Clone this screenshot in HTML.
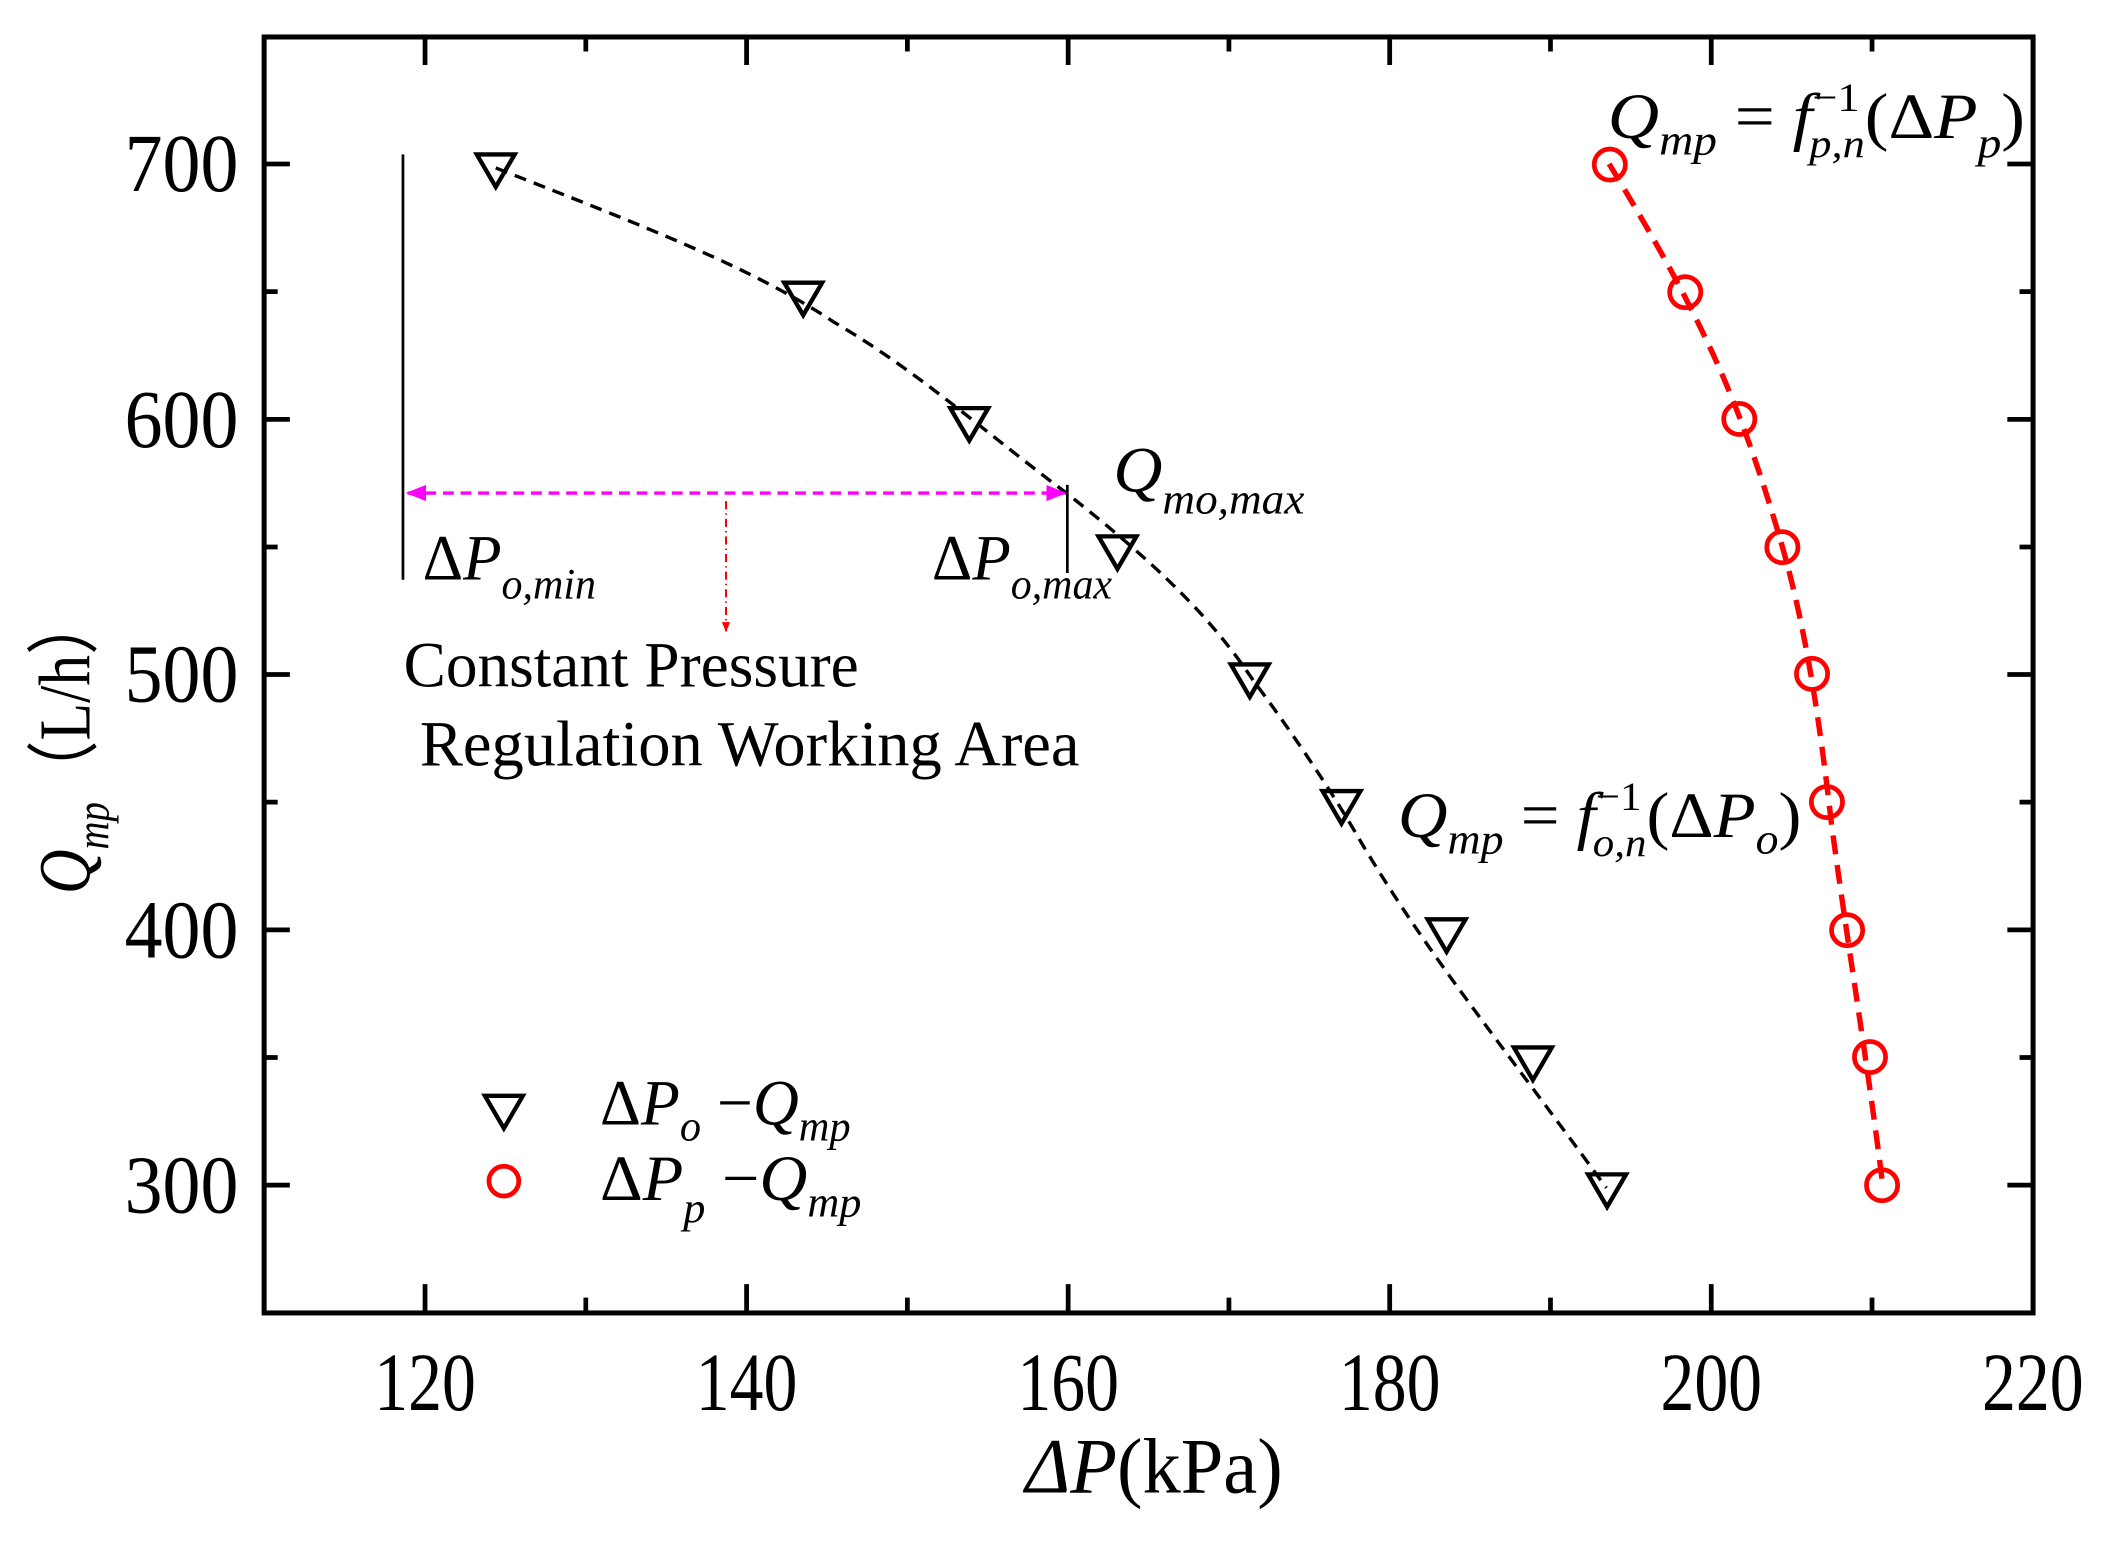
<!DOCTYPE html>
<html><head><meta charset="utf-8"><style>
html,body{margin:0;padding:0;background:#fff;}
svg{display:block;}
text{font-family:"Liberation Serif",serif;fill:#000;}
</style></head><body>
<svg width="2113" height="1542" viewBox="0 0 1560 1138.4" preserveAspectRatio="none" xmlns="http://www.w3.org/2000/svg">
<defs>
<marker id="mh" viewBox="0 0 10 10" refX="9" refY="5" markerWidth="6" markerHeight="6" orient="auto-start-reverse"><path d="M0,1 L10,5 L0,9 z" fill="#f0f"/></marker>
<marker id="rh" viewBox="0 0 10 10" refX="9" refY="5" markerWidth="5" markerHeight="7" orient="auto"><path d="M0,1 L10,5 L0,9 z" fill="#f00"/></marker>
</defs>
<rect x="195" y="27.3" width="1306" height="942" fill="none" stroke="#000" stroke-width="3.7"/>
<g stroke="#000" stroke-width="3.5">
<path d="M313.8,969v-21M551.2,969v-21M788.6,969v-21M1026,969v-21M1263.4,969v-21M432.5,969v-11M669.9,969v-11M907.3,969v-11M1144.7,969v-11M1382.1,969v-11"/>
<path d="M313.8,27v21M551.2,27v21M788.6,27v21M1026,27v21M1263.4,27v21M432.5,27v11M669.9,27v11M907.3,27v11M1144.7,27v11M1382.1,27v11"/>
<path d="M195,121.1h19M195,309.6h19M195,498h19M195,686.5h19M195,874.9h19M195,215.3h10M195,403.8h10M195,592.2h10M195,780.7h10"/>
<path d="M1501,121.1h-19M1501,309.6h-19M1501,498h-19M1501,686.5h-19M1501,874.9h-19M1501,215.3h-10M1501,403.8h-10M1501,592.2h-10M1501,780.7h-10"/>
</g>
<g font-size="61" text-anchor="middle">
<text x="313.8" y="1041" textLength="75" lengthAdjust="spacingAndGlyphs">120</text>
<text x="551.2" y="1041" textLength="75" lengthAdjust="spacingAndGlyphs">140</text>
<text x="788.6" y="1041" textLength="75" lengthAdjust="spacingAndGlyphs">160</text>
<text x="1026" y="1041" textLength="75" lengthAdjust="spacingAndGlyphs">180</text>
<text x="1263.4" y="1041" textLength="75" lengthAdjust="spacingAndGlyphs">200</text>
<text x="1500.8" y="1041" textLength="75" lengthAdjust="spacingAndGlyphs">220</text>
</g>
<g font-size="61">
<text x="92" y="141" textLength="84" lengthAdjust="spacingAndGlyphs">700</text>
<text x="92" y="330" textLength="84" lengthAdjust="spacingAndGlyphs">600</text>
<text x="92" y="518" textLength="84" lengthAdjust="spacingAndGlyphs">500</text>
<text x="92" y="707" textLength="84" lengthAdjust="spacingAndGlyphs">400</text>
<text x="92" y="895" textLength="84" lengthAdjust="spacingAndGlyphs">300</text>
</g>
<text x="757" y="1102" font-size="58" textLength="190" lengthAdjust="spacingAndGlyphs"><tspan font-style="italic">ΔP</tspan>(kPa)</text>
<text transform="translate(66,660) rotate(-90)" font-size="54" textLength="222" lengthAdjust="spacingAndGlyphs"><tspan font-style="italic">Q</tspan><tspan font-style="italic" font-size="34" dy="14">mp</tspan><tspan dy="-14">（L/h）</tspan></text>
<path d="M366,124 C478,168 556,198 616,238 C676,273 726,318 786,363 C855,417 895,457 925,502 C955,542 985,587 1005,622 C1055,706 1105,766 1186,877" fill="none" stroke="#000" stroke-width="2.5" stroke-dasharray="9,6"/>
<path d="M1188,121 C1214,164 1234,199 1249,229 C1274,278 1294,328 1316,404 C1334,467 1344,537 1352,607 C1364,697 1379,786 1390,875" fill="none" stroke="#f00" stroke-width="4" stroke-dasharray="14,8"/>
<g fill="none" stroke="#000" stroke-width="3.2">
<path d="M352,114h28l-14,24z"/><path d="M579,208.7h28l-14,24z"/><path d="M701.6,301.3h28l-14,24z"/><path d="M811,396h28l-14,24z"/><path d="M908.7,490.5h28l-14,24z"/><path d="M976.4,584h28l-14,24z"/><path d="M1054,678.7h28l-14,24z"/><path d="M1117.7,773.3h28l-14,24z"/><path d="M1172.5,867h28l-14,24z"/>
<path d="M358,809h28l-14,24z"/>
</g>
<g fill="none" stroke="#f00" stroke-width="3.5">
<circle cx="1188.5" cy="121.5" r="11.5"/><circle cx="1244.2" cy="215.7" r="11.5"/><circle cx="1284.1" cy="309.3" r="11.5"/><circle cx="1315.9" cy="404" r="11.5"/><circle cx="1337.8" cy="497.5" r="11.5"/><circle cx="1348.8" cy="592.1" r="11.5"/><circle cx="1363.7" cy="686.7" r="11.5"/><circle cx="1380.6" cy="780.4" r="11.5"/><circle cx="1389.5" cy="875" r="11.5"/>
<circle cx="372" cy="872" r="11"/>
</g>
<path d="M297.5,114V428M788,358V423" stroke="#000" stroke-width="2"/>
<line x1="301" y1="364" x2="786" y2="364" stroke="#f0f" stroke-width="2.5" stroke-dasharray="8,5" marker-start="url(#mh)" marker-end="url(#mh)"/>
<line x1="536" y1="370" x2="536" y2="466" stroke="#f00" stroke-width="1.5" stroke-dasharray="6,3,1,3" marker-end="url(#rh)"/>
<g font-size="48">
<text x="312" y="428" textLength="128" lengthAdjust="spacingAndGlyphs">Δ<tspan font-style="italic">P</tspan><tspan font-style="italic" font-size="32" dy="14">o,min</tspan></text>
<text x="688" y="428" textLength="133" lengthAdjust="spacingAndGlyphs">Δ<tspan font-style="italic">P</tspan><tspan font-style="italic" font-size="32" dy="14">o,max</tspan></text>
<text x="822" y="363" font-style="italic" textLength="141" lengthAdjust="spacingAndGlyphs">Q<tspan font-size="32" dy="16">mo,max</tspan></text>
<text x="298" y="507" textLength="336" lengthAdjust="spacingAndGlyphs">Constant Pressure</text>
<text x="310" y="565" textLength="487" lengthAdjust="spacingAndGlyphs">Regulation Working Area</text>
<text x="1032" y="618" textLength="298" lengthAdjust="spacingAndGlyphs"><tspan font-style="italic">Q</tspan><tspan font-style="italic" font-size="32" dy="12">mp</tspan><tspan dy="-12"> = </tspan><tspan font-style="italic">f</tspan><tspan font-size="30" dy="-20">−1</tspan><tspan font-style="italic" font-size="30" dx="-34" dy="34">o,n</tspan><tspan dy="-14">(Δ</tspan><tspan font-style="italic">P</tspan><tspan font-style="italic" font-size="32" dy="12">o</tspan><tspan dy="-12">)</tspan></text>
<text x="1187" y="102" textLength="308" lengthAdjust="spacingAndGlyphs"><tspan font-style="italic">Q</tspan><tspan font-style="italic" font-size="32" dy="12">mp</tspan><tspan dy="-12"> = </tspan><tspan font-style="italic">f</tspan><tspan font-size="30" dy="-20">−1</tspan><tspan font-style="italic" font-size="30" dx="-34" dy="34">p,n</tspan><tspan dy="-14">(Δ</tspan><tspan font-style="italic">P</tspan><tspan font-style="italic" font-size="32" dy="14">p</tspan><tspan dy="-14">)</tspan></text>
<text x="443" y="830" textLength="185" lengthAdjust="spacingAndGlyphs">Δ<tspan font-style="italic">P</tspan><tspan font-style="italic" font-size="32" dy="12">o</tspan><tspan dy="-12"> −</tspan><tspan font-style="italic">Q</tspan><tspan font-style="italic" font-size="32" dy="12">mp</tspan></text>
<text x="443" y="886" textLength="193" lengthAdjust="spacingAndGlyphs">Δ<tspan font-style="italic">P</tspan><tspan font-style="italic" font-size="32" dy="16">p</tspan><tspan dy="-16"> −</tspan><tspan font-style="italic">Q</tspan><tspan font-style="italic" font-size="32" dy="12">mp</tspan></text>
</g>
</svg>
</body></html>
